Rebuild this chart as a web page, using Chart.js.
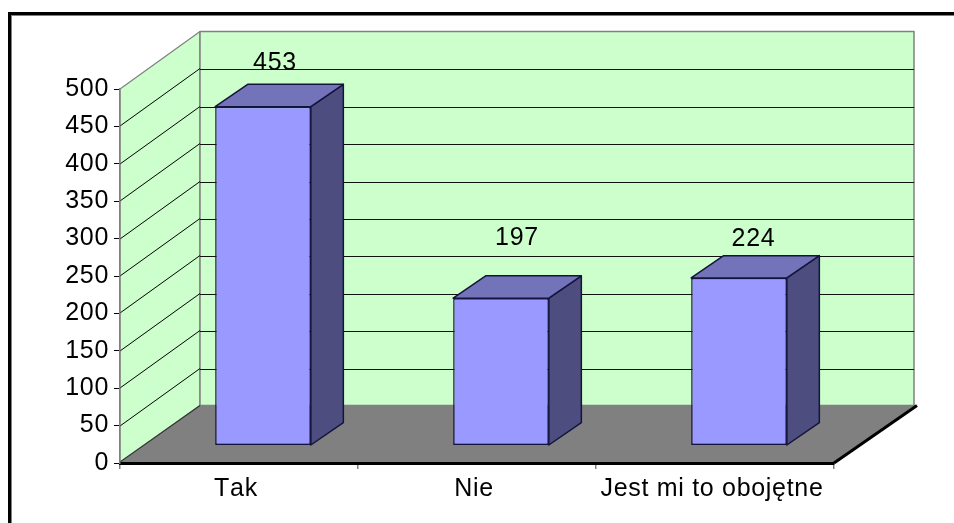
<!DOCTYPE html>
<html><head><meta charset="utf-8">
<script src="https://cdn.jsdelivr.net/npm/chart.js@4"></script>
<style>html,body{margin:0;padding:0;background:#fff}canvas{display:block}</style>
</head><body>
<canvas id="c" width="954" height="523"></canvas>
<script>
const categories = ["Tak", "Nie", "Jest mi to obojętne"];
const values = [453, 197, 224];
const yMin = 0, yMax = 500, yStep = 50;

const FONT = '25px "Liberation Sans", Arial, sans-serif';
const wallDepth = {dx: 80, dy: -57.5};
const barShift = {dx: 24, dy: -17.5};
const barDepth = {dx: 32.5, dy: -22.3};
const labelOffset = [{dx: 12, dy: -44}, {dx: 16, dy: -60}, {dx: 14.5, dy: -39}];

function poly(ctx, pts, fill, stroke, lw) {
  ctx.beginPath();
  pts.forEach((p, i) => i ? ctx.lineTo(p[0], p[1]) : ctx.moveTo(p[0], p[1]));
  ctx.closePath();
  if (fill) { ctx.fillStyle = fill; ctx.fill(); }
  if (stroke) { ctx.strokeStyle = stroke; ctx.lineWidth = lw || 1; ctx.lineJoin = 'round'; ctx.stroke(); }
}
function line(ctx, x1, y1, x2, y2, color, lw) {
  ctx.beginPath(); ctx.moveTo(x1, y1); ctx.lineTo(x2, y2);
  ctx.strokeStyle = color; ctx.lineWidth = lw; ctx.stroke();
}

const scene3d = {
  id: 'scene3d',
  beforeDraw(chart) {
    const {ctx, chartArea: a, scales: {y}} = chart;
    const d = wallDepth;
    const L = a.left, R = a.right, T = a.top, B = a.bottom;
    ctx.fontKerning = 'none';
    ctx.letterSpacing = '0.7px';
    ctx.save();
    ctx.fillStyle = '#fff'; ctx.fillRect(0, 0, chart.width, chart.height);
    // outer frame, top and left only
    ctx.fillStyle = '#808080';
    ctx.fillRect(8, 12, 946, 4); ctx.fillRect(8, 12, 4, 511);
    ctx.fillStyle = '#000';
    ctx.fillRect(8, 12, 946, 3); ctx.fillRect(8, 12, 3, 511);
    // walls
    poly(ctx, [[L, B], [L + d.dx, B + d.dy], [L + d.dx, T + d.dy], [L, T]], '#ccffcc', '#808080', 1.2);
    poly(ctx, [[L + d.dx, T + d.dy], [R + d.dx, T + d.dy], [R + d.dx, B + d.dy], [L + d.dx, B + d.dy]], '#ccffcc', '#808080', 1.5);
    // gridlines on the walls
    y.ticks.forEach(t => {
      if (t.value === yMin || t.value === yMax) return;
      const py = Math.round(y.getPixelForValue(t.value));
      line(ctx, L, py, L + d.dx, py + d.dy, '#000', 1);
      const by = Math.round(py + d.dy) + 0.5;
      line(ctx, L + d.dx, by, R + d.dx, by, '#111', 1);
    });
    // floor
    poly(ctx, [[L, B], [R, B], [R + d.dx + 3, B + d.dy], [L + d.dx, B + d.dy]], '#808080');
    line(ctx, L, B - 1, L + d.dx, B + d.dy, '#333', 1.2);
    line(ctx, R, B, R + d.dx + 3, B + d.dy, '#000', 3);
    ctx.restore();
  },
  beforeDatasetsDraw(chart) {
    chart.ctx.save();
    chart.ctx.translate(barShift.dx, barShift.dy);
  },
  afterDatasetsDraw(chart) {
    const ctx = chart.ctx;
    const edge = '#14143c';
    chart.getDatasetMeta(0).data.forEach(b => {
      const l = b.x - b.width / 2, r = b.x + b.width / 2, t = b.y, u = b.base;
      const d = barDepth;
      poly(ctx, [[r, t], [r + d.dx, t + d.dy], [r + d.dx, u + d.dy], [r, u]], '#4d4d80', edge, 1.5);
      poly(ctx, [[l, t], [l + d.dx, t + d.dy], [r + d.dx, t + d.dy], [r, t]], '#7373ba', edge, 1.5);
    });
    ctx.restore();
    ctx.save();
    ctx.font = FONT; ctx.fillStyle = '#000';
    ctx.textAlign = 'center'; ctx.textBaseline = 'middle';
    chart.getDatasetMeta(0).data.forEach((b, i) => {
      ctx.fillText(String(values[i]), b.x + barShift.dx + labelOffset[i].dx,
                   b.y + barShift.dy + labelOffset[i].dy);
    });
    ctx.restore();
  }
};

new Chart(document.getElementById('c'), {
  type: 'bar',
  data: {
    labels: categories,
    datasets: [{
      data: values,
      backgroundColor: '#9999ff',
      borderColor: '#14143c',
      borderWidth: 1.5,
      borderSkipped: false,
      barPercentage: 0.402,
      categoryPercentage: 1,
      clip: false
    }]
  },
  options: {
    responsive: false,
    animation: false,
    layout: {padding: {top: 89, right: 120, bottom: 0, left: 0}},
    plugins: {legend: {display: false}, title: {display: false}, tooltip: {enabled: false}},
    scales: {
      x: {
        afterFit(s) { s.height = 60; },
        border: {color: '#000', width: 3},
        grid: {display: true, drawOnChartArea: false, drawTicks: true, tickLength: 6, color: '#808080', lineWidth: 1.5, offset: true},
        ticks: {color: '#000', font: {family: '"Liberation Sans", Arial, sans-serif', size: 25}, padding: 5, labelOffset: -3, maxRotation: 0, autoSkip: false}
      },
      y: {
        min: yMin, max: yMax,
        afterFit(s) { s.width = 120; },
        border: {color: '#808080', width: 1.5},
        grid: {display: true, drawOnChartArea: false, drawTicks: true, tickLength: 6, color: '#000', lineWidth: 1},
        ticks: {stepSize: yStep, color: '#000', font: {family: '"Liberation Sans", Arial, sans-serif', size: 25}, padding: 5}
      }
    }
  },
  plugins: [scene3d]
});
</script>
</body></html>
